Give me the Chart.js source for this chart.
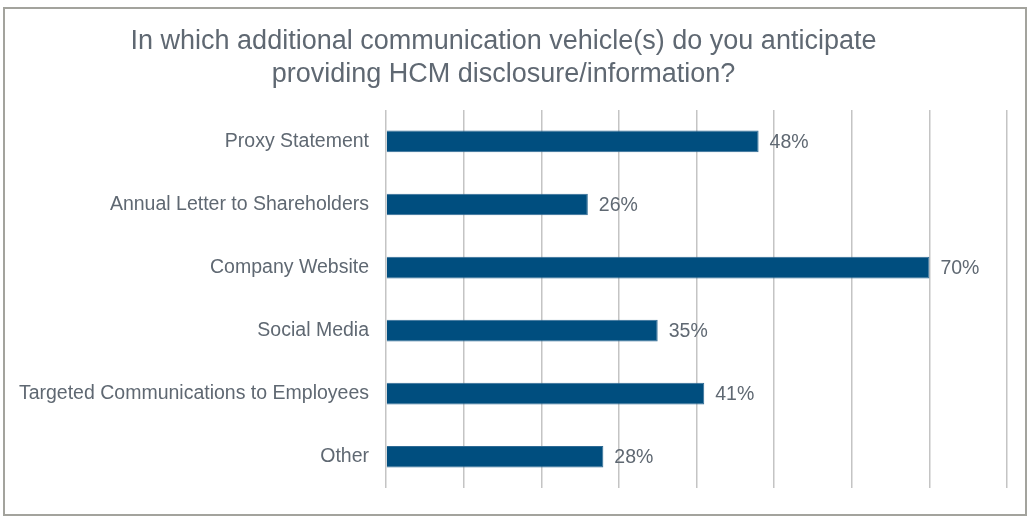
<!DOCTYPE html>
<html>
<head>
<meta charset="utf-8">
<script src="https://cdn.jsdelivr.net/npm/chart.js@4.4.1/dist/chart.umd.min.js"></script>
<style>
  html, body { margin: 0; padding: 0; background: #fff; }
  #wrap { position: relative; width: 1028px; height: 517px; }
  #frame {
    position: absolute; left: 3px; top: 7px; width: 1020px; height: 505px;
    border: 2px solid #a3a39d; box-sizing: content-box;
  }
  #canvas { position: absolute; left: 0; top: 0; }
</style>
</head>
<body>
<div id="wrap">
  <div id="frame"></div>
  <canvas id="canvas" width="1028" height="517"></canvas>
</div>
<script>
const categories = [
  'Proxy Statement',
  'Annual Letter to Shareholders',
  'Company Website',
  'Social Media',
  'Targeted Communications to Employees',
  'Other'
];
const shares = [48, 26, 70, 35, 41, 28];
const titleLines = [
  'In which additional communication vehicle(s) do you anticipate',
  'providing HCM disclosure/information?'
];

const textGrey = '#5f6872';
const barBlue = '#004e7f';

// percent labels to the right of each bar
const valueLabels = {
  id: 'valueLabels',
  afterDatasetsDraw(chart) {
    const ctx = chart.ctx;
    const meta = chart.getDatasetMeta(0);
    ctx.save();
    ctx.font = '19.5px "Liberation Sans", Arial, sans-serif';
    ctx.fillStyle = textGrey;
    ctx.textAlign = 'left';
    ctx.textBaseline = 'middle';
    meta.data.forEach((bar, i) => {
      ctx.fillText(shares[i] + '%', bar.x + 11, bar.y + 1);
    });
    ctx.restore();
  }
};

const ctx = document.getElementById('canvas').getContext('2d');
let chart = new Chart(ctx, {
  type: 'bar',
  data: {
    labels: categories,
    datasets: [{
      data: shares,
      backgroundColor: barBlue,
      borderColor: '#2f6a94',
      borderWidth: 1,
      barPercentage: 0.344,
      categoryPercentage: 1
    }]
  },
  options: {
    indexAxis: 'y',
    responsive: false,
    animation: false,
    layout: { padding: { left: 0, right: 21, top: 0, bottom: 22 } },
    plugins: {
      legend: { display: false },
      tooltip: { enabled: false },
      title: {
        display: true,
        text: titleLines,
        color: textGrey,
        font: { family: '"Liberation Sans", Arial, sans-serif', size: 27, weight: 'normal', lineHeight: 1.22 },
        padding: { top: 25, bottom: 19 }
      }
    },
    scales: {
      x: {
        min: 0,
        max: 80,
        ticks: { display: false, stepSize: 10 },
        grid: { color: '#c4c4c4', lineWidth: 1.5, drawTicks: false },
        border: { display: false },
        afterFit(scale) { scale.height = 0; }
      },
      y: {
        ticks: {
          color: textGrey,
          padding: 17,
          font: { family: '"Liberation Sans", Arial, sans-serif', size: 19.5 }
        },
        grid: { display: false, drawTicks: false },
        border: { display: false },
        afterFit(scale) { scale.width = 386; }
      }
    }
  },
  plugins: [valueLabels]
});
</script>
</body>
</html>
